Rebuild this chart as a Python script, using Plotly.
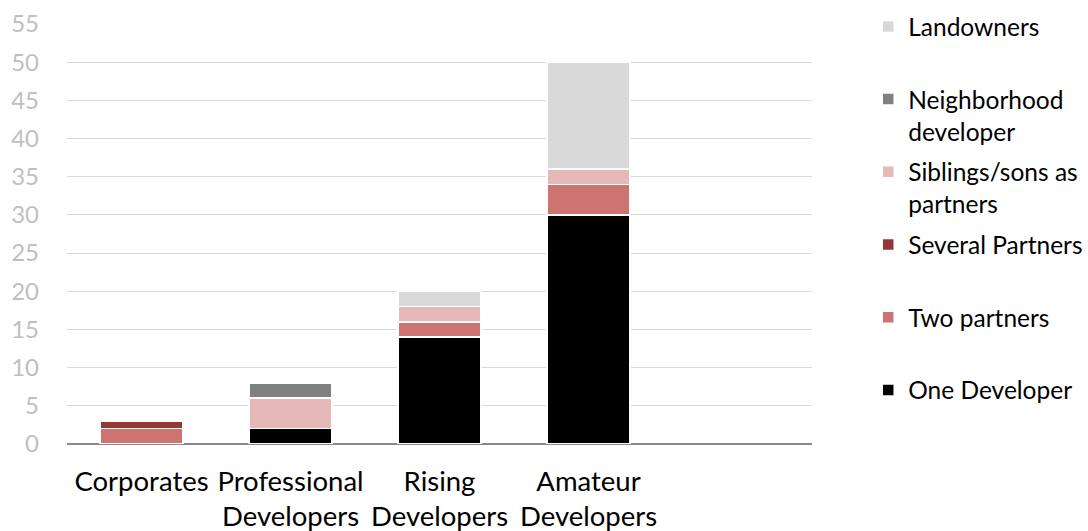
import plotly.graph_objects as go

# Developer types on the x axis (the fifth slot is left empty)
categories = ["Corporates", "Professional<br>Developers", "Rising<br>Developers", "Amateur<br>Developers"]

# Stacked segments, bottom to top
one_developer = [0, 2, 14, 30]
two_partners = [2, 0, 2, 4]
several_partners = [1, 0, 0, 0]
siblings_partners = [0, 4, 2, 2]
neighborhood_dev = [0, 2, 0, 0]
landowners = [0, 0, 2, 14]

y_ticks = list(range(0, 56, 5))

series = [
    ("One Developer<br> ", one_developer, "#000000"),
    ("Two partners<br> ", two_partners, "#cd7371"),
    ("Several Partners<br> ", several_partners, "#953735"),
    ("Siblings/sons as<br>partners", siblings_partners, "#e6b9b8"),
    ("Neighborhood<br>developer", neighborhood_dev, "#808080"),
    ("Landowners<br> ", landowners, "#d9d9d9"),
]

FONT = "Lato"

fig = go.Figure()
n = len(series)
for i, (name, vals, color) in enumerate(series):
    fig.add_trace(go.Bar(
        x=categories,
        y=vals,
        name=name,
        legendgroup=f"g{i}",
        legendrank=n - i,
        marker=dict(color=color, line=dict(color="#ffffff", width=1.5)),
        hoverinfo="x+y+name",
    ))

fig.update_layout(
    barmode="stack",
    bargap=0.44,
    width=1088,
    height=531,
    margin=dict(l=67, r=276, t=24, b=87, autoexpand=False),
    plot_bgcolor="#ffffff",
    paper_bgcolor="#ffffff",
    font=dict(family=FONT, color="#000000"),
    legend=dict(
        x=0.798, xanchor="left", xref="container",
        y=0.9925, yanchor="top", yref="container",
        valign="top",
        traceorder="grouped",
        tracegroupgap=6,
        maxheight=1.0,
        font=dict(family=FONT, size=24.5, color="#000000"),
        bgcolor="rgba(0,0,0,0)",
    ),
    xaxis=dict(
        type="category",
        categoryorder="array",
        categoryarray=categories,
        range=[-0.5, 4.5],
        showgrid=False,
        showline=False,
        ticks="",
        automargin=False,
        ticklabelstandoff=18,
        tickfont=dict(family=FONT, size=27.5, color="#000000"),
    ),
    yaxis=dict(
        range=[0, 55],
        tickvals=y_ticks,
        showgrid=True,
        gridcolor="#d9d9d9",
        gridwidth=1.3,
        zeroline=True,
        zerolinecolor="#898989",
        zerolinewidth=1.8,
        showline=False,
        ticks="",
        automargin=False,
        ticklabelstandoff=27,
        tickfont=dict(family=FONT, size=24, color="#bfbfbf"),
    ),
)

fig.write_html("out.html")
